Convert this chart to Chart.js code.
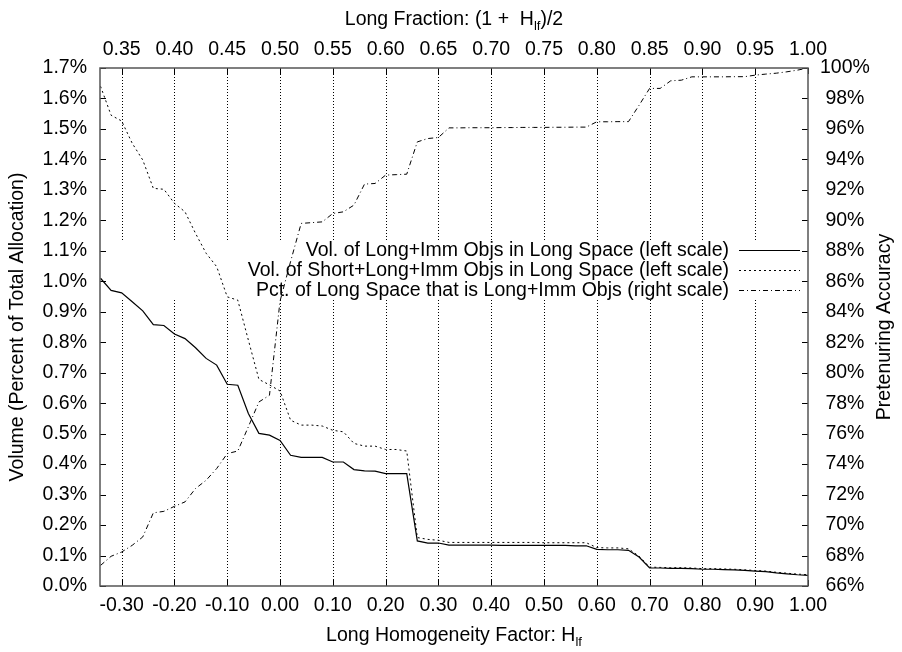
<!DOCTYPE html>
<html>
<head>
<meta charset="utf-8">
<script src="https://cdn.jsdelivr.net/npm/chart.js@4"></script>
<style>
  html, body { margin: 0; padding: 0; background: #fff; }
</style>
</head>
<body>
<canvas id="chart" width="902" height="652"></canvas>
<script>
// Long homogeneity factor H_lf (bottom axis)
const hlf = [-0.34, -0.32, -0.30, -0.28, -0.26, -0.24, -0.22, -0.20, -0.18, -0.16, -0.14, -0.12,
  -0.10, -0.08, -0.06, -0.04, -0.02, 0.00, 0.02, 0.04, 0.06, 0.08, 0.10, 0.12, 0.14, 0.16, 0.18,
  0.20, 0.22, 0.24, 0.26, 0.28, 0.30, 0.32, 0.34, 0.36, 0.38, 0.40, 0.42, 0.44, 0.46, 0.48, 0.50,
  0.52, 0.54, 0.56, 0.58, 0.60, 0.62, 0.64, 0.66, 0.68, 0.70, 0.72, 0.74, 0.76, 0.78, 0.80, 0.82,
  0.84, 0.86, 0.88, 0.90, 0.92, 0.94, 0.96, 0.98, 1.00];

// Vol. of Long+Imm objs in long space, % of total allocation (left scale)
const longImmVol = [1.010, 0.970, 0.962, 0.933, 0.903, 0.858, 0.855, 0.827, 0.812, 0.782, 0.747, 0.725,
  0.662, 0.659, 0.566, 0.501, 0.495, 0.478, 0.429, 0.422, 0.422, 0.422, 0.407, 0.407, 0.382, 0.378, 0.377,
  0.369, 0.369, 0.369, 0.148, 0.141, 0.141, 0.134, 0.134, 0.134, 0.134, 0.134, 0.133, 0.133, 0.133, 0.133,
  0.133, 0.133, 0.133, 0.132, 0.132, 0.120, 0.119, 0.119, 0.117, 0.095, 0.059, 0.059, 0.058, 0.058, 0.057,
  0.055, 0.055, 0.054, 0.053, 0.051, 0.049, 0.047, 0.043, 0.040, 0.037, 0.035];

// Vol. of Short+Long+Imm objs in long space (left scale)
const shortLongImmVol = [1.640, 1.545, 1.526, 1.453, 1.398, 1.305, 1.302, 1.256, 1.228, 1.157, 1.092, 1.048,
  0.949, 0.938, 0.807, 0.678, 0.660, 0.640, 0.544, 0.528, 0.528, 0.525, 0.511, 0.506, 0.468, 0.459, 0.459,
  0.448, 0.448, 0.443, 0.159, 0.153, 0.150, 0.143, 0.143, 0.143, 0.143, 0.143, 0.143, 0.143, 0.143, 0.143,
  0.142, 0.142, 0.142, 0.142, 0.142, 0.126, 0.125, 0.125, 0.122, 0.098, 0.062, 0.061, 0.060, 0.060, 0.059,
  0.057, 0.057, 0.056, 0.055, 0.053, 0.051, 0.049, 0.045, 0.042, 0.039, 0.037];

// Pct. of long space that is Long+Imm objs (right scale)
const pctLongImm = [67.35, 67.95, 68.23, 68.67, 69.22, 70.80, 70.90, 71.23, 71.52, 72.40, 72.94, 73.71,
  74.69, 74.86, 76.45, 78.08, 78.52, 84.70, 87.30, 89.80, 89.85, 89.90, 90.45, 90.56, 91.00, 92.38, 92.42,
  92.97, 93.00, 93.03, 95.15, 95.37, 95.44, 96.07, 96.07, 96.08, 96.08, 96.08, 96.09, 96.09, 96.10, 96.10,
  96.10, 96.11, 96.11, 96.12, 96.12, 96.47, 96.47, 96.48, 96.48, 97.55, 98.66, 98.66, 99.16, 99.20, 99.42,
  99.42, 99.42, 99.42, 99.43, 99.43, 99.53, 99.60, 99.66, 99.75, 99.86, 100.00];

const seriesLabels = [
  'Vol. of Long+Imm Objs in Long Space (left scale)',
  'Vol. of Short+Long+Imm Objs in Long Space (left scale)',
  'Pct. of Long Space that is Long+Imm Objs (right scale)'
];

const bottomTicks = [-0.30, -0.20, -0.10, 0.00, 0.10, 0.20, 0.30, 0.40, 0.50, 0.60, 0.70, 0.80, 0.90, 1.00];
const topTicks = [0.35, 0.40, 0.45, 0.50, 0.55, 0.60, 0.65, 0.70, 0.75, 0.80, 0.85, 0.90, 0.95, 1.00];
const leftTicks = [0.0, 0.1, 0.2, 0.3, 0.4, 0.5, 0.6, 0.7, 0.8, 0.9, 1.0, 1.1, 1.2, 1.3, 1.4, 1.5, 1.6, 1.7];
const rightTicks = [66, 68, 70, 72, 74, 76, 78, 80, 82, 84, 86, 88, 90, 92, 94, 96, 98, 100];

const X_MIN = -0.341, X_MAX = 1.0;
const topTitle = ['Long Fraction: (1 +  H', 'lf', ')/2'];
const bottomTitle = ['Long Homogeneity Factor: H', 'lf', ''];
const leftTitle = 'Volume (Percent of Total Allocation)';
const rightTitle = 'Pretenuring Accuracy';

const FONT = "'Liberation Sans', Arial, Helvetica, sans-serif";
const FS = 19.5;
const dashes = [[], [2, 3], [5, 3, 1, 3]];

function fixedTicks(values) {
  return scale => { scale.ticks = values.map(v => ({ value: v })); };
}

function drawSubText(ctx, parts, cx, baseline) {
  const big = `${FS}px ${FONT}`, small = `13px ${FONT}`;
  ctx.font = big;
  const w0 = ctx.measureText(parts[0]).width;
  const w2 = ctx.measureText(parts[2]).width;
  ctx.font = small;
  const w1 = ctx.measureText(parts[1]).width;
  let x = cx - (w0 + w1 + w2) / 2;
  ctx.textAlign = 'left';
  ctx.textBaseline = 'alphabetic';
  ctx.font = big;
  ctx.fillText(parts[0], x, baseline);
  x += w0;
  ctx.font = small;
  ctx.fillText(parts[1], x, baseline + 5);
  x += w1;
  ctx.font = big;
  ctx.fillText(parts[2], x, baseline);
}

// gnuplot-like frame, inward ticks, broken dotted grid, key and titles
const gnuplotDecor = {
  id: 'gnuplotDecor',
  beforeDatasetsDraw(chart) {
    const { ctx, chartArea: a, scales } = chart;
    ctx.save();
    ctx.strokeStyle = '#000';
    ctx.lineWidth = 1;
    ctx.setLineDash([1, 2]);
    const keyTop = 240, keyBottom = 300;
    bottomTicks.forEach(v => {
      const px = Math.round(scales.x.getPixelForValue(v)) + 0.5;
      if (px >= a.right - 1) return;
      ctx.beginPath();
      ctx.moveTo(px, a.top);
      ctx.lineTo(px, keyTop);
      ctx.moveTo(px, keyBottom);
      ctx.lineTo(px, a.bottom);
      ctx.stroke();
    });
    ctx.restore();
  },
  afterDatasetsDraw(chart) {
    const { ctx, chartArea: a, scales } = chart;
    ctx.save();
    // inward ticks
    ctx.strokeStyle = '#000';
    ctx.lineWidth = 1;
    ctx.setLineDash([]);
    ctx.beginPath();
    leftTicks.forEach(v => {
      const py = Math.round(scales.y.getPixelForValue(v)) + 0.5;
      ctx.moveTo(a.left, py); ctx.lineTo(a.left + 6, py);
    });
    rightTicks.forEach(v => {
      const py = Math.round(scales.y2.getPixelForValue(v)) + 0.5;
      ctx.moveTo(a.right, py); ctx.lineTo(a.right - 6, py);
    });
    bottomTicks.forEach(v => {
      const px = Math.round(scales.x.getPixelForValue(v)) + 0.5;
      ctx.moveTo(px, a.bottom); ctx.lineTo(px, a.bottom - 6);
    });
    topTicks.forEach(v => {
      const px = Math.round(scales.x2.getPixelForValue(v)) + 0.5;
      ctx.moveTo(px, a.top); ctx.lineTo(px, a.top + 6);
    });
    ctx.stroke();
    // frame
    ctx.strokeStyle = '#555';
    ctx.lineWidth = 1.5;
    ctx.strokeRect(a.left, a.top, a.right - a.left, a.bottom - a.top);

    // key
    ctx.fillStyle = '#000';
    ctx.font = `${FS}px ${FONT}`;
    ctx.textAlign = 'right';
    ctx.textBaseline = 'middle';
    seriesLabels.forEach((label, i) => {
      const y = 250 + i * 20;
      ctx.fillText(label, 729, y + 1);
      ctx.strokeStyle = '#000';
      ctx.lineWidth = 1;
      ctx.setLineDash(dashes[i]);
      ctx.beginPath();
      ctx.moveTo(739, y + 0.5);
      ctx.lineTo(800, y + 0.5);
      ctx.stroke();
    });
    ctx.setLineDash([]);

    // titles with subscripts
    const cx = (a.left + a.right) / 2;
    drawSubText(ctx, topTitle, cx, 25);
    drawSubText(ctx, bottomTitle, cx, 641);

    // right title reads bottom-to-top
    ctx.save();
    ctx.translate(885, (a.top + a.bottom) / 2);
    ctx.rotate(-Math.PI / 2);
    ctx.font = `${FS}px ${FONT}`;
    ctx.textAlign = 'center';
    ctx.textBaseline = 'middle';
    ctx.fillText(rightTitle, 0, 0);
    ctx.restore();
    ctx.restore();
  }
};

const tickFont = { family: FONT, size: FS };
const noGrid = { display: false, drawTicks: false };

new Chart(document.getElementById('chart'), {
  type: 'line',
  data: {
    datasets: [
      {
        label: seriesLabels[0],
        data: hlf.map((h, i) => ({ x: h, y: longImmVol[i] })),
        xAxisID: 'x', yAxisID: 'y',
        borderColor: '#000', borderWidth: 1.2, borderDash: dashes[0]
      },
      {
        label: seriesLabels[1],
        data: hlf.map((h, i) => ({ x: h, y: shortLongImmVol[i] })),
        xAxisID: 'x', yAxisID: 'y',
        borderColor: '#000', borderWidth: 1, borderDash: dashes[1]
      },
      {
        label: seriesLabels[2],
        data: hlf.map((h, i) => ({ x: h, y: pctLongImm[i] })),
        xAxisID: 'x', yAxisID: 'y2',
        borderColor: '#000', borderWidth: 1, borderDash: dashes[2]
      }
    ]
  },
  options: {
    responsive: false,
    animation: false,
    devicePixelRatio: 1,
    layout: { padding: 0 },
    elements: { point: { radius: 0 }, line: { tension: 0, fill: false } },
    plugins: { legend: { display: false }, tooltip: { enabled: false } },
    scales: {
      x: {
        type: 'linear', position: 'bottom', min: X_MIN, max: X_MAX,
        afterBuildTicks: fixedTicks(bottomTicks),
        afterFit: s => { s.height = 66; },
        grid: noGrid, border: { display: false },
        ticks: { font: tickFont, color: '#000', padding: 8, autoSkip: false, maxRotation: 0,
          callback: v => v.toFixed(2) }
      },
      x2: {
        type: 'linear', position: 'top', min: (1 + X_MIN) / 2, max: (1 + X_MAX) / 2,
        afterBuildTicks: fixedTicks(topTicks),
        afterFit: s => { s.height = 68; },
        grid: noGrid, border: { display: false },
        ticks: { font: tickFont, color: '#000', padding: 7, autoSkip: false, maxRotation: 0,
          callback: v => v.toFixed(2) }
      },
      y: {
        type: 'linear', position: 'left', min: 0, max: 1.7,
        afterBuildTicks: fixedTicks(leftTicks),
        afterFit: s => { s.width = 100; },
        grid: noGrid, border: { display: false },
        ticks: { font: tickFont, color: '#000', padding: 13, autoSkip: false,
          callback: v => v.toFixed(1) + '%' },
        title: { display: true, text: leftTitle, color: '#000',
          font: { family: FONT, size: FS }, padding: { top: 6, bottom: 0 } }
      },
      y2: {
        type: 'linear', position: 'right', min: 66, max: 100,
        afterBuildTicks: fixedTicks(rightTicks),
        afterFit: s => { s.width = 94; },
        grid: noGrid, border: { display: false },
        ticks: { font: tickFont, color: '#000', padding: 12, autoSkip: false, crossAlign: 'center',
          callback: v => v + '%' }
      }
    }
  },
  plugins: [gnuplotDecor]
});
</script>
</body>
</html>
